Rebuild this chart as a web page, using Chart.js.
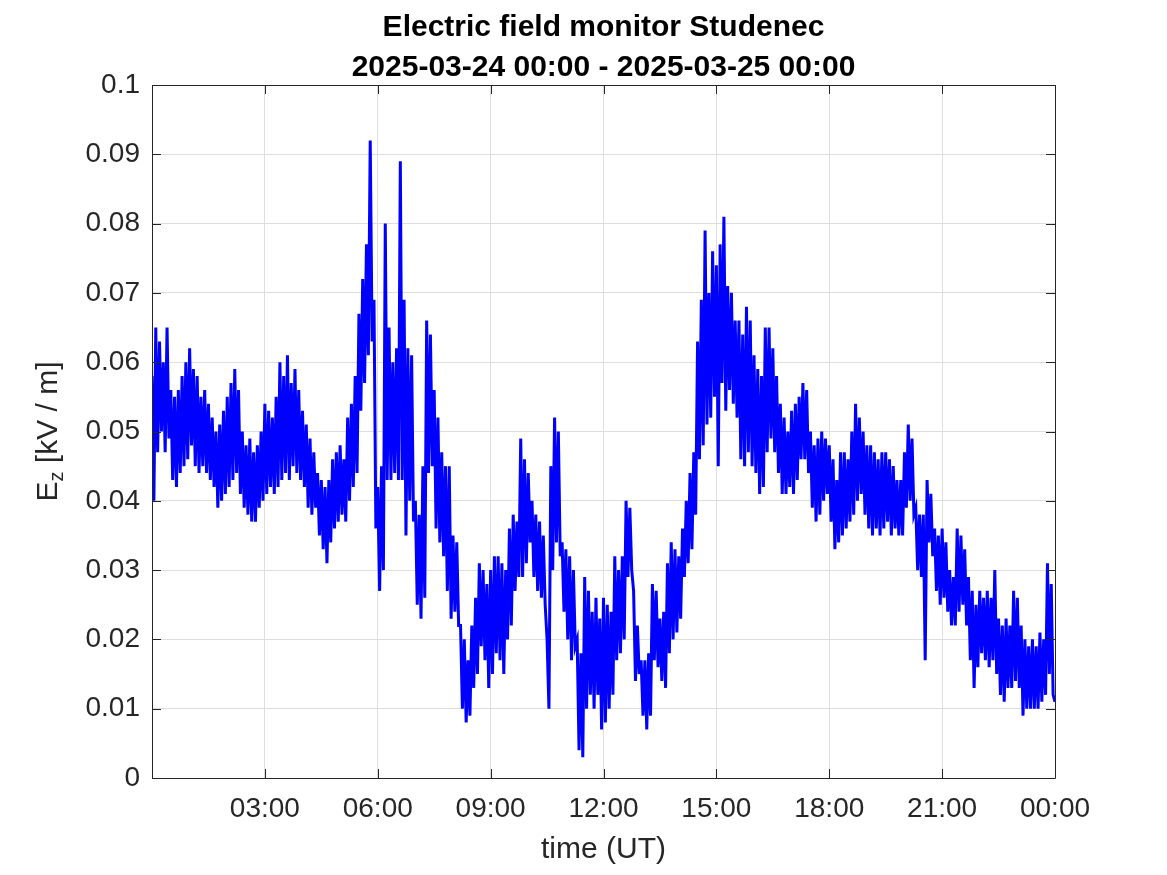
<!DOCTYPE html>
<html>
<head>
<meta charset="utf-8">
<title>Electric field monitor Studenec</title>
<script src="https://cdn.jsdelivr.net/npm/chart.js@4.4.1/dist/chart.umd.min.js"></script>
<style>
  html, body { margin: 0; padding: 0; background: #fff; }
  #wrap { width: 1167px; height: 875px; }
</style>
</head>
<body>
<div id="wrap"><canvas id="efield" width="1167" height="875"></canvas></div>
<script>
// chart text
const titleLines = ['Electric field monitor Studenec', '2025-03-24 00:00 - 2025-03-25 00:00'];
const xLabel = 'time (UT)';
const yLabelMain = 'E', yLabelSub = 'z', yLabelUnit = ' [kV / m]';

// axes
const xMin = 0, xMax = 24, xStep = 3;      // hours since 2025-03-24 00:00
const yMin = 0, yMax = 0.1, yStep = 0.01;  // kV/m

// Ez samples every 0.05 h: the trace swings up and down
// so each 0.1 h slot holds its upper then lower excursion
const sampleStepHours = 0.05;
const ez = [
  0.058,0.040, 0.065,0.047, 0.063,0.050, 0.060,0.047, 0.065,0.049,
  0.056,0.043, 0.055,0.042, 0.056,0.044, 0.058,0.045, 0.060,0.046,
  0.062,0.048, 0.059,0.045, 0.058,0.044, 0.055,0.045, 0.056,0.044,
  0.054,0.043, 0.052,0.042, 0.050,0.039, 0.051,0.040, 0.053,0.041,
  0.055,0.042, 0.057,0.043, 0.059,0.044, 0.056,0.041, 0.050,0.039,
  0.048,0.038, 0.049,0.037, 0.047,0.037, 0.048,0.039, 0.050,0.040,
  0.054,0.041, 0.053,0.042, 0.052,0.041, 0.055,0.042, 0.060,0.043,
  0.058,0.044, 0.061,0.043, 0.057,0.045, 0.059,0.044, 0.056,0.043,
  0.053,0.042, 0.051,0.039, 0.049,0.038, 0.047,0.039, 0.044,0.035,
  0.043,0.033, 0.042,0.031, 0.043,0.034, 0.046,0.036, 0.047,0.037,
  0.048,0.038, 0.046,0.037, 0.052,0.040, 0.054,0.042, 0.058,0.044,
  0.067,0.053, 0.072,0.057, 0.077,0.061, 0.092,0.063, 0.069,0.036,
  0.042,0.027, 0.045,0.030, 0.080,0.043, 0.065,0.043, 0.060,0.044,
  0.062,0.043, 0.089,0.043, 0.069,0.035, 0.062,0.040, 0.061,0.037,
  0.040,0.025, 0.038,0.023, 0.045,0.026, 0.066,0.044, 0.064,0.045,
  0.056,0.036, 0.052,0.034, 0.047,0.032, 0.045,0.027, 0.045,0.023,
  0.035,0.024, 0.034,0.022, 0.022,0.010, 0.020,0.008, 0.017,0.009,
  0.022,0.013, 0.026,0.015, 0.031,0.019, 0.030,0.017, 0.028,0.013,
  0.030,0.015, 0.032,0.018, 0.032,0.017, 0.031,0.015, 0.030,0.020,
  0.036,0.022, 0.038,0.027, 0.037,0.029, 0.049,0.029, 0.046,0.031,
  0.044,0.034, 0.040,0.029, 0.038,0.027, 0.037,0.026, 0.035,0.025,
  0.020,0.010, 0.045,0.030, 0.052,0.034, 0.050,0.032, 0.034,0.024,
  0.033,0.020, 0.032,0.017, 0.030,0.019, 0.020,0.004, 0.018,0.003,
  0.029,0.010, 0.027,0.012, 0.024,0.010, 0.026,0.012, 0.023,0.007,
  0.026,0.008, 0.025,0.010, 0.024,0.012, 0.032,0.017, 0.030,0.018,
  0.032,0.020, 0.040,0.029, 0.039,0.030, 0.027,0.014, 0.022,0.015,
  0.017,0.009, 0.017,0.007, 0.018,0.009, 0.028,0.017, 0.027,0.016,
  0.023,0.014, 0.024,0.013, 0.031,0.018, 0.034,0.020, 0.033,0.021,
  0.032,0.023, 0.036,0.029, 0.040,0.031, 0.044,0.033, 0.047,0.038,
  0.063,0.046, 0.069,0.048, 0.079,0.051, 0.070,0.052, 0.076,0.055,
  0.074,0.045, 0.077,0.057, 0.081,0.053, 0.071,0.056, 0.070,0.054,
  0.066,0.052, 0.066,0.046, 0.064,0.045, 0.068,0.047, 0.066,0.045,
  0.061,0.044, 0.059,0.041, 0.058,0.042, 0.065,0.047, 0.065,0.049,
  0.062,0.047, 0.058,0.044, 0.054,0.041, 0.052,0.041, 0.050,0.042,
  0.053,0.041, 0.054,0.043, 0.055,0.046, 0.057,0.046, 0.056,0.044,
  0.050,0.039, 0.048,0.037, 0.049,0.038, 0.050,0.040, 0.049,0.041,
  0.048,0.037, 0.046,0.033, 0.043,0.034, 0.047,0.035, 0.047,0.036,
  0.046,0.037, 0.050,0.038, 0.054,0.040, 0.052,0.041, 0.050,0.038,
  0.048,0.036, 0.048,0.035, 0.047,0.036, 0.046,0.035, 0.047,0.036,
  0.047,0.037, 0.046,0.035, 0.045,0.036, 0.043,0.035, 0.043,0.035,
  0.047,0.039, 0.051,0.040, 0.049,0.038, 0.039,0.030, 0.038,0.029,
  0.038,0.017, 0.043,0.034, 0.041,0.032, 0.036,0.027, 0.035,0.025,
  0.036,0.026, 0.034,0.024, 0.030,0.022, 0.029,0.022, 0.036,0.024,
  0.035,0.025, 0.033,0.022, 0.029,0.017, 0.027,0.013, 0.025,0.016,
  0.027,0.018, 0.026,0.017, 0.027,0.016, 0.026,0.017, 0.030,0.015,
  0.023,0.012, 0.022,0.011, 0.023,0.013, 0.022,0.013, 0.027,0.014,
  0.026,0.013, 0.022,0.009, 0.020,0.010, 0.019,0.010, 0.020,0.010,
  0.019,0.010, 0.021,0.011, 0.020,0.012, 0.031,0.015, 0.028,0.012,
  0.011
];

const FONT = '"Liberation Sans", Arial, Helvetica, sans-serif';
const AXIS_COLOR = '#262626';
const TICK_LEN = 9;

function hourLabel(h) {
  if (h === 0) return '';
  const hh = Math.round(h) % 24;
  return String(hh).padStart(2, '0') + ':00';
}

// title above the plot
const titlePlugin = {
  id: 'plotTitle',
  afterDraw(chart) {
    const ctx = chart.ctx, a = chart.chartArea;
    ctx.save();
    ctx.fillStyle = '#000';
    ctx.font = 'bold 30px ' + FONT;
    ctx.textAlign = 'center';
    ctx.textBaseline = 'alphabetic';
    const cx = (a.left + a.right) / 2;
    ctx.fillText(titleLines[0], cx, 36);
    ctx.fillText(titleLines[1], cx, 76);
    ctx.restore();
  }
};

// y label with subscript z
const yLabelPlugin = {
  id: 'ezLabel',
  afterDraw(chart) {
    const ctx = chart.ctx, a = chart.chartArea;
    const big = '30px ' + FONT, small = '20px ' + FONT;
    ctx.save();
    ctx.fillStyle = AXIS_COLOR;
    ctx.translate(57, (a.top + a.bottom) / 2);
    ctx.rotate(-Math.PI / 2);
    ctx.textBaseline = 'alphabetic';
    ctx.font = big;
    const wE = ctx.measureText(yLabelMain).width;
    const wU = ctx.measureText(yLabelUnit).width;
    ctx.font = small;
    const wz = ctx.measureText(yLabelSub).width;
    let x = -(wE + wz + wU) / 2;
    ctx.font = big; ctx.fillText(yLabelMain, x, 0); x += wE;
    ctx.font = small; ctx.fillText(yLabelSub, x, 6); x += wz;
    ctx.font = big; ctx.fillText(yLabelUnit, x, 0);
    ctx.restore();
  }
};

// matlab style box with inward ticks on all four sides
const boxPlugin = {
  id: 'boxTicks',
  afterDraw(chart) {
    const ctx = chart.ctx, a = chart.chartArea;
    const xs = chart.scales.x, ys = chart.scales.y;
    ctx.save();
    ctx.strokeStyle = AXIS_COLOR;
    ctx.lineWidth = 1;
    ctx.beginPath();
    ctx.rect(Math.round(a.left) + 0.5, Math.round(a.top) + 0.5,
             Math.round(a.right - a.left), Math.round(a.bottom - a.top));
    xs.ticks.forEach(t => {
      const px = Math.round(xs.getPixelForValue(t.value)) + 0.5;
      ctx.moveTo(px, a.bottom); ctx.lineTo(px, a.bottom - TICK_LEN);
      ctx.moveTo(px, a.top); ctx.lineTo(px, a.top + TICK_LEN);
    });
    ys.ticks.forEach(t => {
      const py = Math.round(ys.getPixelForValue(t.value)) + 0.5;
      ctx.moveTo(a.left, py); ctx.lineTo(a.left + TICK_LEN, py);
      ctx.moveTo(a.right, py); ctx.lineTo(a.right - TICK_LEN, py);
    });
    ctx.stroke();
    ctx.restore();
  }
};

const ctx = document.getElementById('efield').getContext('2d');
new Chart(ctx, {
  type: 'line',
  data: {
    datasets: [{
      label: 'Ez',
      data: ez.map((v, i) => ({ x: i * sampleStepHours, y: v })),
      borderColor: '#0000ff',
      borderWidth: 3,
      borderJoinStyle: 'miter',
      pointRadius: 0,
      tension: 0,
      fill: false
    }]
  },
  options: {
    responsive: false,
    animation: false,
    devicePixelRatio: 1,
    layout: { padding: { top: 85, right: 112, bottom: 0, left: 0 } },
    plugins: {
      legend: { display: false },
      title: { display: false },
      tooltip: { enabled: false }
    },
    scales: {
      x: {
        type: 'linear',
        min: xMin, max: xMax,
        grid: { color: '#dedede', drawTicks: false },
        border: { display: false },
        ticks: {
          stepSize: xStep,
          color: AXIS_COLOR,
          padding: 14,
          maxRotation: 0,
          autoSkip: false,
          font: { family: FONT, size: 28 },
          callback: v => hourLabel(v)
        },
        title: {
          display: true,
          text: xLabel,
          color: AXIS_COLOR,
          font: { family: FONT, size: 30 },
          padding: { top: 0, bottom: 7 }
        },
        afterFit: s => { s.height = 97; }
      },
      y: {
        min: yMin, max: yMax,
        grid: { color: '#dedede', drawTicks: false },
        border: { display: false },
        ticks: {
          stepSize: yStep,
          color: AXIS_COLOR,
          padding: 12,
          font: { family: FONT, size: 28 },
          callback: v => String(parseFloat(v.toFixed(2)))
        },
        afterFit: s => { s.width = 152; }
      }
    }
  },
  plugins: [titlePlugin, yLabelPlugin, boxPlugin]
});
</script>
</body>
</html>
